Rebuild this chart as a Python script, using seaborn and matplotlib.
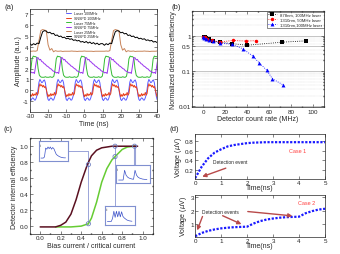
import numpy as np
import matplotlib
matplotlib.use("Agg")
import matplotlib.pyplot as plt
import seaborn as sns

# ---------------- data ----------------
# (a) one period of each trace
blue_100 = [0.1, 0.75, 1.0, 0.85, 0.7, 0.75, 0.9, 0.95, 0.7, 0.1,
            -0.5, -0.85, -0.95, -0.8, -0.7, -0.75, -0.9, -0.9, -0.7, -0.4]
red_100 = [-0.3, 0.3, 0.6, 0.4, 0.5, 0.3, 0.45, 0.25, 0.35, 0.1,
           -0.3, -0.6, -0.4, -0.55, -0.3, -0.5, -0.35, -0.45, -0.2, -0.45]
green_75 = [1.9, 2.9, 3.15, 3.1, 3.1, 3.0, 2.0, 1.4, 1.25, 1.2,
            1.2, 1.2, 1.25, 1.2, 1.2, 1.2, 1.25, 1.2, 1.2, 1.3]
purple_75 = [1.7, 1.6, 1.65, 1.55, 2.3, 3.0, 3.0, 2.8, 2.85, 2.65,
             2.6, 2.45, 2.4, 2.25, 2.2, 2.1, 2.0, 1.95, 1.8, 1.75]
tan_25 = [3.6, 3.6, 3.62, 3.6, 3.65, 4.6, 5.5, 5.6, 5.55, 5.5,
          4.2, 3.7, 3.85, 3.55, 3.65, 3.6, 3.6, 3.62, 3.58, 3.6,
          3.6, 3.6, 3.6, 3.62, 3.6, 3.6, 3.58, 3.6, 3.6, 3.6,
          3.62, 3.6, 3.6, 3.6, 3.6, 3.58, 3.6, 3.6, 3.6, 3.6]
black_25 = [4.3, 4.15, 4.3, 4.2, 4.35, 4.3, 4.9, 5.4, 5.5, 5.45,
            5.3, 5.35, 5.2, 5.25, 5.05, 5.1, 4.95, 5.0, 4.85, 4.9,
            4.75, 4.8, 4.7, 4.75, 4.6, 4.65, 4.55, 4.6, 4.45, 4.5,
            4.4, 4.5, 4.35, 4.45, 4.3, 4.4, 4.25, 4.35, 4.2, 4.3]
labels_a = ["Laser 100MHz", "SNSPD 100MHz", "Laser 75MHz",
            "SNSPD 75MHz", "Laser 25MHz", "SNSPD 25MHz"]

# (b)
cr_878 = [0.5, 1.5, 3, 5, 9, 15, 26, 40, 72, 94]
ef_878 = [0.95, 0.92, 0.86, 0.8, 0.72, 0.66, 0.6, 0.54, 0.66, 0.72]
cr_1310_50 = [0, 2, 4, 8, 15, 27, 39, 48]
ef_1310_50 = [0.95, 0.9, 0.82, 0.74, 0.66, 0.74, 0.71, 0.73]
cr_1310_100 = [0, 1, 3, 5, 9, 15, 26, 36, 45, 51, 58, 63, 73]
ef_1310_100 = [0.92, 0.88, 0.83, 0.78, 0.7, 0.62, 0.58, 0.43, 0.27, 0.17, 0.105, 0.06, 0.04]

# (c)
bias_a = [0.0, 0.15, 0.2, 0.25, 0.3, 0.35, 0.4, 0.46, 0.5, 0.55, 0.6, 0.7, 0.95]
eff_a = [-0.01, -0.01, 0.01, 0.05, 0.15, 0.33, 0.55, 0.77, 0.88, 0.95, 0.98, 1.0, 1.0]
bias_b = [0.15, 0.3, 0.4, 0.47, 0.5, 0.55, 0.6, 0.65, 0.7, 0.73, 0.8, 0.85, 0.92]
eff_b = [-0.01, -0.01, 0.0, 0.03, 0.1, 0.3, 0.55, 0.72, 0.83, 0.87, 0.96, 0.99, 1.0]
pts_x = [0.47, 0.47, 0.73, 0.73, 0.92]
pts_y = [0.77, 0.03, 0.87, 1.0, 1.0]
inset_latch = [0, 0, 0, 0.1, 0.9, 0.8, 1.0, 0.85, 1.0, 0.8, 0.95, 0.85,
               0.6, 0.35, 0.25, 0.18, 0.12, 0.08, 0.05, 0.03, 0.02, 0.02]
inset_single = [0, 0, 0, 0, 1.0, 0.5, 0.3, 0.2, 0.15, 0.1, 0.08,
                1.0, 0.5, 0.3, 0.2, 0.15, 0.1, 0.08, 0.06, 0.05]
inset_burst = [0, 0, 0, 0, 0.3, 1.0, 0.4, 1.0, 0.45, 1.0, 0.45, 0.95,
               0.5, 0.35, 0.25, 0.15, 0.1, 0.06, 0.04, 0.02]

# (d)
t_d = [0, 0.25, 0.5, 0.75, 1, 1.25, 1.5, 1.75, 2, 2.25, 2.5, 2.75, 3,
       3.25, 3.5, 3.75, 4, 4.25, 4.5, 4.75, 5]
v_case1 = [0.02, 0.26, 0.44, 0.56, 0.63, 0.69, 0.72, 0.74, 0.76, 0.77, 0.775,
           0.78, 0.78, 0.78, 0.78, 0.78, 0.78, 0.78, 0.78, 0.78, 0.78]
v_case2 = [0.05, 0.3, 0.46, 0.57, 0.65, 0.7, 0.74, 0.76, 0.78, 1.02, 1.2,
           1.32, 1.4, 1.46, 1.5, 1.52, 1.54, 1.8, 1.96, 2.08, 2.14]

# ---------------- style ----------------
sns.set_theme(style="ticks")
plt.rcParams["font.family"] = ["Liberation Sans", "DejaVu Sans"]
plt.rcParams.update({
    "font.size": 4.5, "axes.labelsize": 5, "xtick.labelsize": 4.5,
    "ytick.labelsize": 4.5, "axes.linewidth": 0.5,
    "xtick.major.width": 0.4, "ytick.major.width": 0.4,
    "xtick.major.size": 2, "ytick.major.size": 2,
    "xtick.minor.size": 1, "ytick.minor.size": 1,
    "xtick.major.pad": 1, "ytick.major.pad": 1,
    "axes.labelpad": 1, "xtick.direction": "in", "ytick.direction": "in",
    "axes.unicode_minus": False,
})

fig = plt.figure(figsize=(3.4, 2.55), dpi=100)

# ---------------- (a) ----------------
ax = fig.add_axes([0.088, 0.557, 0.374, 0.404])
t100 = -35.5 + 0.5 * np.arange(160)
t75 = -42.83 + (13.333 / 20) * np.arange(140)
t25 = -30.0 + np.arange(80)
traces = [
    (t100, np.tile(blue_100, 8), "#5a5aff"),
    (t100, np.tile(red_100, 8), "#e8401c"),
    (t75, np.tile(green_75, 7), "#33bb33"),
    (t75, np.tile(purple_75, 7), "#9933ee"),
    (t25, np.tile(tan_25, 2), "#c8845a"),
    (t25, np.tile(black_25, 2), "black"),
]
for (tx, yv, col), lab in zip(traces, labels_a):
    sns.lineplot(x=tx, y=yv, ax=ax, color=col, lw=0.7, label=lab, sort=False)
ax.set_xlim(-30, 40)
ax.set_ylim(-2, 7.5)
ax.set_xticks(range(-30, 41, 10))
ax.set_yticks(range(-1, 8))
ax.tick_params(top=True, right=True)
ax.set_xlabel("Time (ns)")
ax.set_ylabel("Amplitude (a.u.)")
ax.legend(loc="upper center", bbox_to_anchor=(0.42, 1.0), fontsize=2.6,
          frameon=False, handlelength=1.6, labelspacing=0.15, borderpad=0.2)
fig.text(0.012, 0.985, "(a)", fontsize=5.5, va="top")

# ---------------- (b) ----------------
ax = fig.add_axes([0.565, 0.576, 0.388, 0.376])
ax.set_yscale("log")
ax.grid(True, which="major", axis="y", color="#999999", lw=0.4)
ax.grid(True, which="minor", axis="y", color="#bbbbbb", lw=0.3, ls=":")
sns.lineplot(x=cr_878, y=ef_878, ax=ax, color="black", marker="s", ls=":",
             lw=0.6, ms=2.5, mew=0, label="878nm, 100MHz laser", sort=False)
sns.lineplot(x=cr_1310_50, y=ef_1310_50, ax=ax, color="red", marker="o", ls=":",
             lw=0.6, ms=2.5, mew=0, label="1310nm, 50MHz laser", sort=False)
sns.lineplot(x=cr_1310_100, y=ef_1310_100, ax=ax, color="blue", marker="^", ls=":",
             lw=0.6, ms=2.8, mew=0, label="1310nm,100MHz laser", sort=False)
ax.set_xlim(-10, 110)
ax.set_ylim(0.0094, 5)
ax.set_xticks(range(0, 101, 20))
ax.set_yticks([0.01, 0.1, 0.5, 1])
ax.set_yticklabels(["0.01", "0.1", "0.5", "1"])
ax.xaxis.set_minor_locator(matplotlib.ticker.MultipleLocator(10))
ax.tick_params(which="both", top=True, right=True)
ax.set_xlabel("Detector count rate (MHz)")
ax.set_ylabel("Normalized detection efficiency")
leg = ax.legend(loc="upper right", fontsize=3.1, frameon=True, fancybox=False,
                handlelength=2, labelspacing=0.2, borderpad=0.3,
                borderaxespad=0.1)
leg.get_frame().set_edgecolor("black")
leg.get_frame().set_linewidth(0.4)
fig.text(0.505, 0.985, "(b)", fontsize=5.5, va="top")

# ---------------- (c) ----------------
ax = fig.add_axes([0.088, 0.078, 0.362, 0.376])
link = "#9aa4d8"
ax.plot([0.27, 0.47], [0.946, 0.946], color=link, lw=0.7)
ax.plot([0.47, 0.47], [0.03, 0.946], color=link, lw=0.7)
ax.plot([0.73, 0.73], [0.25, 1.0], color=link, lw=0.7)
ax.plot([0.92, 0.92], [0.76, 1.0], color=link, lw=1.5)
sns.lineplot(x=bias_b, y=eff_b, ax=ax, color="#66cc33", lw=1.1, sort=False)
sns.lineplot(x=bias_a, y=eff_a, ax=ax, color="#5a1020", lw=1.1, sort=False)
sns.scatterplot(x=pts_x, y=pts_y, ax=ax, s=9, facecolors="none",
                edgecolor="#7080c0", linewidth=0.6, zorder=5)
ax.set_xlim(-0.1, 1.1)
ax.set_ylim(-0.1, 1.1)
ax.set_xticks(np.arange(0, 1.01, 0.2))
ax.set_yticks(np.arange(0, 1.01, 0.2))
ax.xaxis.set_minor_locator(matplotlib.ticker.MultipleLocator(0.1))
ax.yaxis.set_minor_locator(matplotlib.ticker.MultipleLocator(0.1))
ax.tick_params(which="both", top=True, right=True)
ax.set_xlabel("Bias current / critical current")
ax.set_ylabel("Detector internal efficiency")
insets = [([-0.015, 0.81, 0.285, 0.25], inset_latch, "ii"),
          ([0.736, 0.54, 0.334, 0.22], inset_single, "i"),
          ([0.63, 0.02, 0.29, 0.23], inset_burst, "iii")]
for rect, vals, tag in insets:
    iax = ax.inset_axes(rect, transform=ax.transData)
    sns.lineplot(x=np.arange(len(vals)), y=vals, ax=iax, color="#3a50c8", lw=0.5)
    iax.set_xlim(-2, len(vals) + 1)
    iax.set_ylim(-0.3, 1.5)
    iax.set_xticks([])
    iax.set_yticks([])
    iax.set_xlabel("")
    iax.set_ylabel("")
    for sp in iax.spines.values():
        sp.set_color("#8090d0")
        sp.set_linewidth(0.8)
    iax.text(0.04, 0.93, tag, transform=iax.transAxes, fontsize=2.5, va="top")
fig.text(0.01, 0.505, "(c)", fontsize=5.5, va="top")

# ---------------- (d) ----------------
arrow_col = "#b84a4a"
arrow = dict(arrowstyle="-|>,head_width=0.25,head_length=0.5", color=arrow_col, lw=1.0)

ax = fig.add_axes([0.574, 0.294, 0.382, 0.176])
sns.lineplot(x=t_d, y=v_case1, ax=ax, color="#1a1aff", lw=1.6, ls=(0, (1, 0.7)))
ax.set_xlim(0, 5)
ax.set_ylim(0, 0.95)
ax.set_yticks([0.2, 0.4, 0.6, 0.8])
ax.tick_params(top=True, right=True)
ax.set_xlabel("Time(ns)", labelpad=-1)
ax.set_ylabel("Voltage ($\\mu$V)")
ax.text(3.95, 0.6, "Case 1", color="#ff4040", fontsize=4, ha="center", va="center")
ax.text(1.35, 0.38, "Detection event", fontsize=3.5, ha="center", va="center",
        bbox=dict(fc="white", ec="none", pad=0.5))
ax.annotate("", xy=(0.17, 0.03), xytext=(1.28, 0.25), arrowprops=arrow)

ax = fig.add_axes([0.574, 0.067, 0.382, 0.165])
sns.lineplot(x=t_d, y=v_case2, ax=ax, color="#1a1aff", lw=1.6, ls=(0, (1, 0.7)))
ax.set_xlim(0, 5)
ax.set_ylim(0, 3.2)
ax.set_yticks([1, 2, 3])
ax.tick_params(top=True, right=True)
ax.set_xlabel("Time(ns)", labelpad=-1)
ax.set_ylabel("Voltage ($\\mu$V)")
ax.text(4.3, 2.63, "Case 2", color="#ff4040", fontsize=4, ha="center", va="center")
ax.text(0.96, 1.95, "Detection events", fontsize=3.5, ha="center", va="center")
ax.annotate("", xy=(0.04, 0.3), xytext=(0.32, 1.75), arrowprops=arrow)
ax.annotate("", xy=(1.88, 0.88), xytext=(0.96, 1.7), arrowprops=arrow)
ax.annotate("", xy=(3.85, 1.58), xytext=(1.92, 1.95), arrowprops=arrow)
fig.text(0.5, 0.505, "(d)", fontsize=5.5, va="top")

fig.savefig("out.png", dpi=100)
